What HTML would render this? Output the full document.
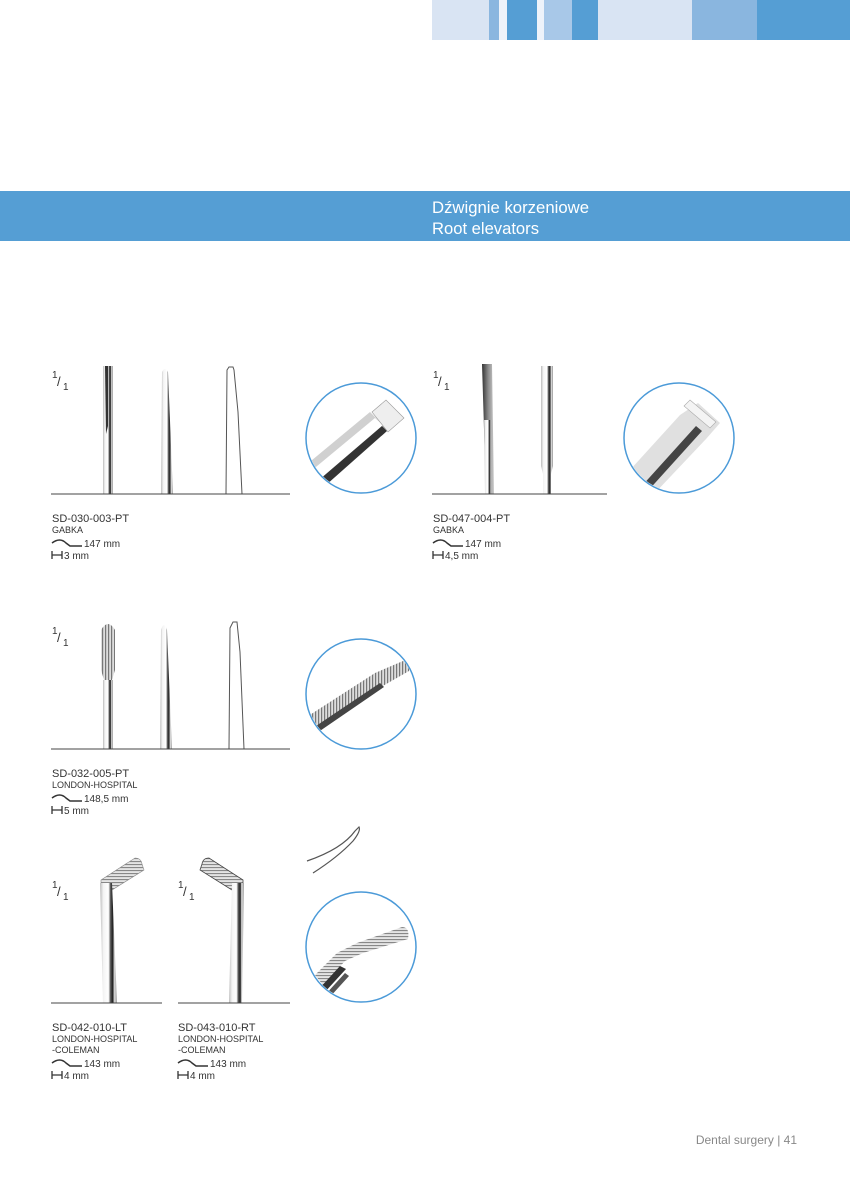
<!DOCTYPE html>
<html><head><meta charset="utf-8"><style>
html,body{margin:0;padding:0;background:#fff}
svg{display:block}
text{font-family:"Liberation Sans",sans-serif}
</style></head><body>
<svg width="850" height="1200" viewBox="0 0 850 1200" xmlns="http://www.w3.org/2000/svg">
<defs>
<linearGradient id="st" x1="0" x2="1" y1="0" y2="0">
<stop offset="0" stop-color="#bbb"/><stop offset="0.2" stop-color="#f4f4f4"/><stop offset="0.5" stop-color="#fff"/><stop offset="0.62" stop-color="#555"/><stop offset="0.75" stop-color="#222"/><stop offset="0.85" stop-color="#ddd"/><stop offset="1" stop-color="#999"/>
</linearGradient>
<linearGradient id="st2" x1="0" x2="0" y1="0" y2="1">
<stop offset="0" stop-color="#ccc"/><stop offset="0.3" stop-color="#fff"/><stop offset="0.6" stop-color="#ddd"/><stop offset="0.75" stop-color="#333"/><stop offset="0.9" stop-color="#bbb"/><stop offset="1" stop-color="#888"/>
</linearGradient>
<linearGradient id="dk" x1="0" x2="1"><stop offset="0" stop-color="#333"/><stop offset="0.5" stop-color="#888"/><stop offset="1" stop-color="#ccc"/></linearGradient>
<pattern id="rib" width="3" height="4" patternUnits="userSpaceOnUse"><rect width="3" height="4" fill="#ddd"/><rect width="1.2" height="4" fill="#777"/></pattern>
<pattern id="ribh" width="4" height="3" patternUnits="userSpaceOnUse"><rect width="4" height="3" fill="#e4e4e4"/><rect width="4" height="1.1" fill="#888"/></pattern>
<clipPath id="c1"><circle cx="361" cy="438" r="54"/></clipPath>
<clipPath id="c2"><circle cx="679" cy="438" r="54"/></clipPath>
<clipPath id="c3"><circle cx="361" cy="694" r="54"/></clipPath>
<clipPath id="c4"><circle cx="361" cy="947" r="54"/></clipPath>
</defs>
<rect x="432" y="0" width="57" height="40" fill="#d9e4f3"/>
<rect x="489" y="0" width="10" height="40" fill="#8ab6df"/>
<rect x="499" y="0" width="8" height="40" fill="#eef3fa"/>
<rect x="507" y="0" width="30" height="40" fill="#559ed4"/>
<rect x="537" y="0" width="7" height="40" fill="#eef3fa"/>
<rect x="544" y="0" width="28" height="40" fill="#a8c8e8"/>
<rect x="572" y="0" width="26" height="40" fill="#559ed4"/>
<rect x="598" y="0" width="94" height="40" fill="#d9e4f3"/>
<rect x="692" y="0" width="65" height="40" fill="#8ab6df"/>
<rect x="757" y="0" width="93" height="40" fill="#559ed4"/>
<rect x="0" y="191" width="850" height="50" fill="#559ed4"/>
<text x="432" y="213" font-size="17" fill="#fff" textLength="157" lengthAdjust="spacingAndGlyphs">Dźwignie korzeniowe</text>
<text x="432" y="234" font-size="17" fill="#fff" textLength="107" lengthAdjust="spacingAndGlyphs">Root elevators</text>

<g font-size="11" fill="#333">
<text x="52" y="378" font-size="10">1</text><text x="57" y="386" font-size="13">/</text><text x="63" y="390" font-size="10">1</text>
<path d="M103 366h10v128h-10z" fill="url(#st)"/><path d="M105 366h3v60l-2 8z" fill="#333"/>
<path d="M162 372q3-6 6 0l5 122h-12z" fill="url(#st)"/>
<path d="M227 370l2-3h4l1 3 4 42 4 82h-16z" fill="none" stroke="#555" stroke-width="1"/>
<line x1="51" y1="494" x2="290" y2="494" stroke="#444"/>
<g clip-path="url(#c1)">
<path d="M300 470l70-58 18 18-70 62z" fill="#d0d0d0"/><path d="M305 476l70-58 8 7-70 60z" fill="#fff"/><path d="M312 486l70-60 5 5-70 62z" fill="#333"/>
<path d="M372 412l14-12 18 18-16 14z" fill="#eee" stroke="#999" stroke-width="0.6"/></g>
<circle cx="361" cy="438" r="55" fill="none" stroke="#4b9ad8" stroke-width="1.5"/>
<text x="52" y="522">SD-030-003-PT</text>
<text x="52" y="533" font-size="9">GABKA</text>
<path d="M52 543q8-6 14 0l4 3h12" fill="none" stroke="#333" stroke-width="1.5"/>
<text x="84" y="547" font-size="10">147 mm</text>
<path d="M52 551v8M52 555h10M62 551v8" stroke="#333" stroke-width="1.3"/>
<text x="64" y="559" font-size="10">3 mm</text>

<text x="433" y="378" font-size="10">1</text><text x="438" y="386" font-size="13">/</text><text x="444" y="390" font-size="10">1</text>
<path d="M482 364h10l2 130h-8z" fill="url(#dk)"/><path d="M484 420h8v74h-7z" fill="url(#st)"/>
<path d="M541 366h12v100l-2 8v20h-8v-20l-2-8z" fill="url(#st)"/>
<line x1="432" y1="494" x2="607" y2="494" stroke="#444"/>
<g clip-path="url(#c2)">
<path d="M630 470l50-55 18-12 22 20-14 16-52 55z" fill="#e0e0e0"/><path d="M690 400l26 22-6 6-26-22z" fill="#f4f4f4" stroke="#aaa" stroke-width="0.6"/>
<path d="M640 488l56-62 6 5-56 62z" fill="#444"/></g>
<circle cx="679" cy="438" r="55" fill="none" stroke="#4b9ad8" stroke-width="1.5"/>
<text x="433" y="522">SD-047-004-PT</text>
<text x="433" y="533" font-size="9">GABKA</text>
<path d="M433 543q8-6 14 0l4 3h12" fill="none" stroke="#333" stroke-width="1.5"/>
<text x="465" y="547" font-size="10">147 mm</text>
<path d="M433 551v8M433 555h10M443 551v8" stroke="#333" stroke-width="1.3"/>
<text x="445" y="559" font-size="10">4,5 mm</text>

<text x="52" y="634" font-size="10">1</text><text x="57" y="642" font-size="13">/</text><text x="63" y="646" font-size="10">1</text>
<path d="M101 630q7-12 14 0v40l-3 10v69h-8v-69l-3-10z" fill="url(#rib)"/><path d="M103 680h10v69h-10z" fill="url(#st)"/>
<path d="M161 630q3-10 6 0l5 119h-12z" fill="url(#st)"/>
<path d="M230 628l3-6h4l3 30 4 97h-15z" fill="none" stroke="#555"/>
<line x1="51" y1="749" x2="290" y2="749" stroke="#444"/>
<g clip-path="url(#c3)">
<path d="M305 718l70-45 28-12q8 0 6 10l-28 16-70 45z" fill="url(#rib)"/><path d="M310 730l70-47 4 4-70 48z" fill="#444"/></g>
<circle cx="361" cy="694" r="55" fill="none" stroke="#4b9ad8" stroke-width="1.5"/>
<text x="52" y="777">SD-032-005-PT</text>
<text x="52" y="788" font-size="9">LONDON-HOSPITAL</text>
<path d="M52 798q8-6 14 0l4 3h12" fill="none" stroke="#333" stroke-width="1.5"/>
<text x="84" y="802" font-size="10">148,5 mm</text>
<path d="M52 806v8M52 810h10M62 806v8" stroke="#333" stroke-width="1.3"/>
<text x="64" y="814" font-size="10">5 mm</text>

<text x="52" y="888" font-size="10">1</text><text x="57" y="896" font-size="13">/</text><text x="63" y="900" font-size="10">1</text>
<text x="178" y="888" font-size="10">1</text><text x="183" y="896" font-size="13">/</text><text x="189" y="900" font-size="10">1</text>
<path d="M101 880l34-22q6 0 7 6l2 6-32 20-11 2z" fill="url(#ribh)" stroke="#888" stroke-width="0.6"/>
<path d="M100 883h12l5 120h-14z" fill="url(#st)"/>
<path d="M243 880l-34-22q-6 0-7 6l-2 6 32 20 11 2z" fill="url(#ribh)" stroke="#444" stroke-width="0.8"/>
<path d="M232 883h12l-2 120h-13z" fill="url(#st)"/>
<line x1="51" y1="1003" x2="162" y2="1003" stroke="#444"/>
<line x1="178" y1="1003" x2="290" y2="1003" stroke="#444"/>
<path d="M307 861q35-12 48-30l4-4q2 4-6 14q-15 16-40 32" fill="none" stroke="#555" stroke-width="1.2"/>
<g clip-path="url(#c4)">
<path d="M315 975l22-22 20-10 45-16q8 0 6 12l-45 14-18 8-22 24z" fill="url(#ribh)"/>
<path d="M318 990l22-24 6 3-22 24z" fill="#333"/><path d="M325 995l20-22 4 3-20 22z" fill="#555"/></g>
<circle cx="361" cy="947" r="55" fill="none" stroke="#4b9ad8" stroke-width="1.5"/>
<text x="52" y="1031">SD-042-010-LT</text>
<text x="52" y="1042" font-size="9">LONDON-HOSPITAL</text>
<text x="52" y="1053" font-size="9">-COLEMAN</text>
<path d="M52 1063q8-6 14 0l4 3h12" fill="none" stroke="#333" stroke-width="1.5"/>
<text x="84" y="1067" font-size="10">143 mm</text>
<path d="M52 1071v8M52 1075h10M62 1071v8" stroke="#333" stroke-width="1.3"/>
<text x="64" y="1079" font-size="10">4 mm</text>
<text x="178" y="1031">SD-043-010-RT</text>
<text x="178" y="1042" font-size="9">LONDON-HOSPITAL</text>
<text x="178" y="1053" font-size="9">-COLEMAN</text>
<path d="M178 1063q8-6 14 0l4 3h12" fill="none" stroke="#333" stroke-width="1.5"/>
<text x="210" y="1067" font-size="10">143 mm</text>
<path d="M178 1071v8M178 1075h10M188 1071v8" stroke="#333" stroke-width="1.3"/>
<text x="190" y="1079" font-size="10">4 mm</text>
</g>
<text x="797" y="1144" font-size="12" fill="#888" text-anchor="end">Dental surgery | 41</text>
</svg>
</body></html>
